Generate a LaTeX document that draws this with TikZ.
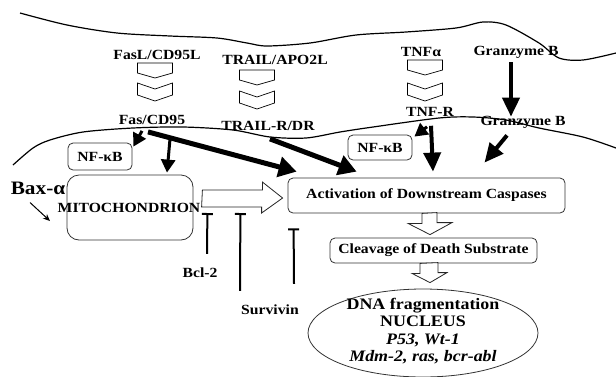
\documentclass[tikz,border=0pt]{standalone}
\usepackage{fontspec}
\setmainfont{Liberation Serif}[FakeStretch=1.12]
\usepackage{tikz}
\usetikzlibrary{positioning, arrows.meta, shapes.geometric}

\tikzset{
  plate/.pic={\draw[line width=0.7pt] (-17.5,0) -- (17.5,0) -- (17.5,10) -- (0,15) -- (-17.5,10) -- cycle;},
  chevron/.pic={\draw[line width=0.7pt] (-17.5,0) -- (0,6) -- (17.5,0) -- (17.5,12) -- (0,18) -- (-17.5,12) -- cycle;}
}

\begin{document}
\begin{tikzpicture}[x=1pt, y=-1pt,
  every node/.style={font=\bfseries\fontsize{14}{16}\selectfont, inner sep=0pt},
  round box/.style={draw=black!80, line width=0.8pt, rounded corners=5pt},
  big arrow/.style={line width=5pt, -{Triangle[length=18pt,width=20pt]}},
  main arrow/.style={line width=4pt, -{Triangle[length=19pt,width=17pt]}},
  small arrow/.style={line width=3pt, -{Triangle[length=13pt,width=14pt]}},
  thin arrow/.style={line width=1pt, -{Stealth[length=7pt,width=6pt]}},
  block/.style={draw=black!85, line width=0.8pt, fill=white},
  blocker/.style={line width=2pt, -{Bar[width=11pt]}},
  membrane/.style={line width=1.2pt}]
\useasboundingbox (0,0) rectangle (616,376);

\draw[membrane] plot[smooth] coordinates {(20,13) (67,25) (117,33) (170,36) (217,38) (247,43) (267,46) (310,43) (356,35) (406,32) (456,28) (483,22) (506,25) (539,43) (559,58) (583,60) (616,53)};
\draw[membrane] plot[smooth] coordinates {(13,165) (33,148) (50,140) (83,132) (133,128) (183,127) (233,130) (270,137) (306,138) (340,132) (373,127) (439,118) (473,117) (506,120) (539,128) (583,137) (616,148)};

\node (fasl) at (157,55) {FasL/CD95L};
\node (trail) at (275,60) {TRAIL/APO2L};
\node (tnfa) at (421,52) {TNFα};
\node (gzm) at (516,52) {Granzyme B};

\pic at (155,63) {plate};
\pic at (155,83) {chevron};
\pic at (257,70) {plate};
\pic at (257,91) {chevron};
\pic at (425,60) {plate};
\pic at (425,83) {chevron};

\node (fas) at (152,120) {Fas/CD95};
\node (trailr) at (268,126) {TRAIL-R/DR};
\node (tnfr) at (430,112) {TNF-R};
\node (gzmb) at (523,122) {Granzyme B};

\node[round box, minimum width=64pt, minimum height=27pt] (nfkbl) at (100,156.5) {NF-κB};
\node[round box, minimum width=64pt, minimum height=25pt] (nfkbr) at (380,147.5) {NF-κB};
\node[round box, rounded corners=12pt, minimum width=126pt, minimum height=65pt] (mito) at (130,207.5) {};
\node[round box, minimum width=277pt, minimum height=35pt] (act) at (426.5,195.5) {Activation of Downstream Caspases};
\node[round box, minimum width=207pt, minimum height=25pt] (clv) at (433.5,250.5) {Cleavage of Death Substrate};
\node[draw=black!80, line width=0.8pt, ellipse, minimum width=230pt, minimum height=88pt] (nuc) at (423,333) {};
\node[align=center, font=\bfseries\fontsize{16}{17.5}\selectfont] (nuctext) at (423,331) {DNA fragmentation\\NUCLEUS\\\textit{P53, Wt-1}\\\textit{Mdm-2, ras, bcr-abl}};

\draw[block] ([shift={(9,-17.5)}]mito.east) -- ++(60,0) -- ++(0,-8) -- ([shift={(-5,2.5)}]act.west) -- ++(-21,15) -- ++(0,-6) -- ++(-60,0) -- cycle;
\node (mitotext) at ([shift={(-1,0.5)}]mito.center) {MITOCHONDRION};

\draw[block] ([shift={(-4.5,0)}]act.south) -- ++(0,10) -- ++(-14,0) -- ([shift={(-3.5,-3)}]clv.north) -- ++(22,-12) -- ++(-15,0) -- ++(0,-10) -- cycle;
\draw[block] ([shift={(-13.5,0)}]clv.south) -- ++(0,10) -- ++(-8,0) -- ([shift={(7,-6)}]nuc.north) -- ++(17,-10) -- ++(-9,0) -- ++(0,-10) -- cycle;

\draw[main arrow] ([shift={(-5,4)}]gzm.south) -- ([shift={(-12,1)}]gzmb.north);
\draw[small arrow] ([shift={(-10,6)}]fas.south) -- ([shift={(1,4)}]nfkbl.north east);
\draw[small arrow] ([shift={(18,14)}]fas.south) -- ([shift={(37,-2)}]mito.north);
\draw[big arrow] ([shift={(-4,7)}]fas.south) -- ([shift={(9,-6)}]act.north west);
\draw[big arrow] ([shift={(2,8)}]trailr.south) -- ([shift={(69,-6)}]act.north west);
\draw[main arrow] ([shift={(1,9)}]tnfr.south) -- ([shift={(6.5,-6)}]act.north);
\draw[small arrow] ([shift={(-3,10)}]tnfr.south) -- ([shift={(2,2)}]nfkbr.north east);
\draw[main arrow] ([shift={(-16,7)}]gzmb.south) -- ([shift={(58,-15)}]act.north);

\node[font=\bfseries\fontsize{19}{21}\selectfont] (bax) at (38,188) {Bax-α};
\coordinate (baxtip) at (50,221);
\draw[thin arrow] ([shift={(-8,8)}]bax.south) -- (baxtip);

\node (bcl) at (200,273) {Bcl-2};
\node (surv) at (270,310) {Survivin};
\draw[blocker] ([shift={(7,-14)}]bcl.north) -- ([shift={(14,5.5)}]mito.east);
\draw[blocker] ([shift={(-30,-14)}]surv.north) -- ([shift={(47,5.5)}]mito.east);
\draw[blocker] ([shift={(24,-21)}]surv.north) -- ([shift={(6,15)}]act.south west);
\end{tikzpicture}
\end{document}
